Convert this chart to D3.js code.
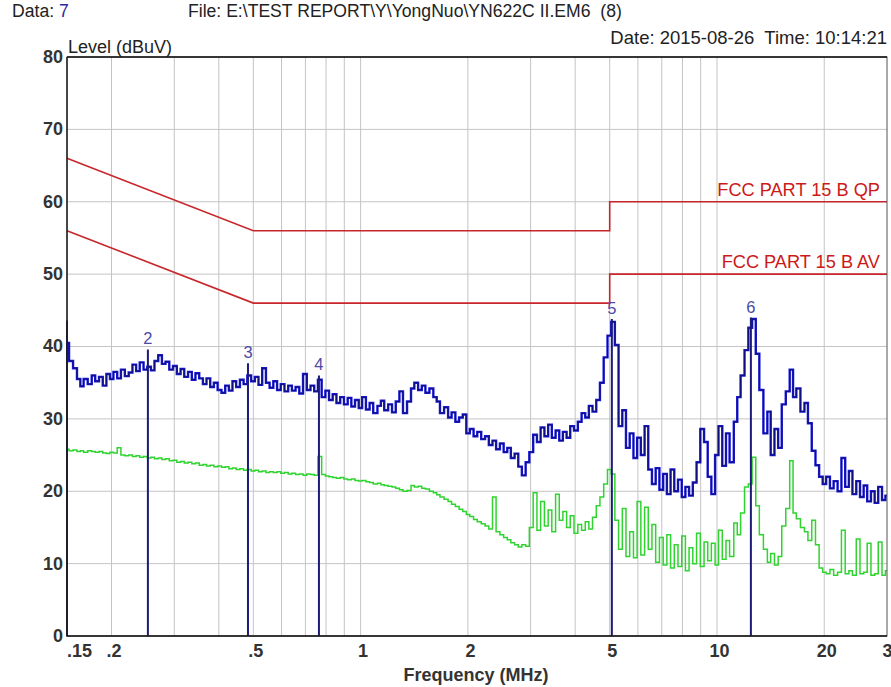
<!DOCTYPE html>
<html><head><meta charset="utf-8">
<script src="https://cdn.jsdelivr.net/npm/d3@7"></script>
<style>
html,body{margin:0;padding:0;background:#fff;}
svg{display:block;font-family:"Liberation Sans",Arial,sans-serif;}
</style></head>
<body>
<svg id="chart" width="891" height="687"></svg>
<script>
// ---------- data ----------
const scanFreq = [
0.150,0.154,0.158,0.162,0.165,0.169,0.174,0.178,0.182,0.187,0.191,0.196,
0.200,0.205,0.210,0.215,0.221,0.226,0.232,0.237,0.243,0.249,0.255,0.261,0.267,0.274,0.280,0.287,0.294,
0.301,0.309,0.316,0.324,0.332,0.340,0.348,0.357,0.365,0.374,0.383,0.392,
0.402,0.412,0.422,0.432,0.442,0.453,0.464,0.475,0.487,0.499,
0.511,0.523,0.536,0.549,0.562,0.576,0.590,
0.604,0.619,0.634,0.649,0.665,0.681,0.698,
0.715,0.732,0.750,0.768,0.787,
0.806,0.825,0.845,0.866,0.887,0.909,0.931,0.953,0.976,
1.00,1.02,1.05,1.07,1.10,1.13,1.15,1.18,1.21,1.24,1.27,1.30,1.33,1.37,1.40,1.43,1.47,
1.50,1.54,1.58,1.62,1.65,1.69,1.74,1.78,1.82,1.87,1.91,1.96,
2.00,2.05,2.10,2.15,2.21,2.26,2.32,2.37,2.43,2.49,2.55,2.61,2.67,2.74,2.80,2.87,2.94,
3.01,3.09,3.16,3.24,3.32,3.40,3.48,3.57,3.65,3.74,3.83,3.92,
4.02,4.12,4.22,4.32,4.42,4.53,4.64,4.75,4.87,4.99,
5.11,5.23,5.36,5.49,5.62,5.76,5.90,
6.04,6.19,6.34,6.49,6.65,6.81,6.98,
7.15,7.32,7.50,7.68,7.87,
8.06,8.25,8.45,8.66,8.87,9.09,9.31,9.53,9.76,
10.0,10.2,10.5,10.7,11.0,11.3,11.5,11.8,12.1,12.4,12.7,13.0,13.3,13.7,14.0,14.3,14.7,
15.0,15.4,15.8,16.2,16.5,16.9,17.4,17.8,18.2,18.7,19.1,19.6,
20.0,20.5,21.0,21.5,22.1,22.6,23.2,23.7,24.3,24.9,25.5,26.1,26.7,27.4,28.0,28.7,29.4,30.0
];
const peakLevel = [
40.5,38.0,37.0,35.5,34.5,35.5,34.8,36.0,35.2,35.8,
34.6,36.2,35.5,36.5,35.6,36.8,35.9,36.4,37.5,36.6,
37.8,36.8,37.2,36.7,38.0,38.8,37.6,37.9,36.8,37.3,
36.2,36.9,35.8,36.5,35.4,36.3,35.6,34.8,35.6,34.4,
35.0,34.0,33.6,34.6,33.9,35.2,34.4,35.4,34.8,36.0,
35.2,35.8,34.7,37.0,35.0,34.3,35.2,34.0,34.8,33.8,
34.6,33.9,34.4,33.5,36.2,34.0,34.6,33.8,35.4,33.0,
33.9,32.6,33.4,32.2,33.0,32.0,32.9,31.7,32.6,31.5,
33.0,31.3,32.2,30.8,31.8,32.5,31.2,32.0,30.9,32.4,
33.8,30.8,32.4,34.2,35.0,34.0,34.6,33.6,34.2,33.0,
32.4,30.8,31.6,30.2,30.9,29.6,30.2,30.6,28.0,28.6,
27.6,28.2,27.2,27.6,26.4,27.0,25.8,26.6,25.4,26.0,
24.6,25.2,23.4,22.2,24.0,25.4,27.8,26.8,28.8,27.6,
29.2,27.4,28.4,27.0,28.2,27.4,29.0,28.4,29.6,30.8,
30.2,31.8,31.0,32.6,35.0,38.5,41.5,43.4,40.2,29.0,
31.2,26.0,28.0,24.6,27.4,25.0,29.0,23.0,21.0,23.2,
20.2,22.4,19.6,23.0,20.0,21.6,19.2,20.6,19.4,21.2,
24.0,28.6,26.8,22.0,19.6,25.0,29.0,23.5,28.0,24.0,
29.6,33.0,36.0,39.5,42.6,43.8,39.0,34.0,28.0,31.0,
25.0,28.6,26.0,32.0,33.8,36.8,33.0,34.2,31.0,32.2,
29.4,25.6,23.6,22.0,21.0,22.0,20.4,21.4,20.0,24.6,
20.6,22.8,19.6,21.4,19.2,20.8,18.6,20.0,18.4,20.6,
18.8,19.4
];
const avgLevel = [
25.8,25.6,25.7,25.5,25.6,25.4,25.6,25.5,25.4,25.5,
25.3,25.2,25.4,25.3,26.0,25.0,24.9,25.0,24.8,24.9,
24.7,24.8,24.6,24.7,24.5,24.6,24.4,24.5,24.2,24.3,
24.0,24.1,23.9,24.0,23.8,23.9,23.6,23.7,23.5,23.6,
23.4,23.5,23.3,23.4,23.1,23.2,23.0,23.1,22.9,23.0,
22.8,22.9,22.7,22.8,22.6,22.7,22.6,22.7,22.5,22.6,
22.4,22.5,22.3,22.4,22.2,22.4,22.3,22.2,24.8,22.3,
22.1,22.0,21.9,21.8,21.9,21.7,21.6,21.7,21.5,21.4,
21.5,21.3,21.2,21.0,21.1,20.9,20.8,20.7,20.6,20.4,
20.2,20.0,20.1,20.8,20.6,20.7,20.4,20.3,20.0,19.8,
19.5,19.2,18.9,18.6,18.2,17.9,17.5,17.2,16.8,16.5,
16.1,15.8,15.5,15.2,14.8,19.2,14.4,14.0,13.6,13.3,
12.9,12.6,12.3,12.6,12.4,15.0,19.8,14.6,18.6,15.2,
17.4,14.4,19.6,16.0,17.2,15.0,16.6,14.2,15.4,14.6,
15.8,14.8,16.4,18.0,19.2,21.0,23.0,22.4,16.0,12.0,
17.6,11.0,14.4,10.8,18.6,11.2,17.8,12.0,15.4,10.2,
13.6,9.8,14.0,9.4,12.6,9.6,13.8,9.0,12.2,10.0,
14.2,9.6,13.0,10.4,12.8,9.8,14.6,10.6,13.2,11.0,
15.6,14.0,17.0,20.6,21.0,24.7,18.0,14.0,12.0,10.2,
11.4,9.8,11.0,15.2,17.6,24.2,17.0,16.2,15.0,14.4,
13.2,16.0,12.6,9.4,8.8,8.6,9.2,8.4,8.8,14.6,
8.6,9.0,8.4,13.4,8.6,8.8,12.8,8.4,8.6,13.0,
8.4,9.0
];
const qpLimit = [[0.15,66],[0.5,56],[5,56],[5,60],[30,60]];
const avLimit = [[0.15,56],[0.5,46],[5,46],[5,50],[30,50]];
const limitNames = ["FCC PART 15 B QP","FCC PART 15 B AV"];
const markerIds = [1,2,3,4,5,6];
const markerFreq = [0.150,0.253,0.483,0.764,5.07,12.45];
const markerLevel = [43.6,39.6,37.7,36.0,43.8,44.0];
const xTickValues = [0.15,0.2,0.5,1,2,5,10,20,30];
const xTickLabels = [".15",".2",".5","1","2","5","10","20","30"];
const gridFreqs = [0.2,0.3,0.4,0.5,0.6,0.7,0.8,0.9,1,2,3,4,5,6,7,8,9,10,20];
const yTickValues = [0,10,20,30,40,50,60,70,80];

// ---------- chart ----------
const svg = d3.select("#chart");
const x = d3.scaleLog().domain([0.15,30]).range([67,887]);
const y = d3.scaleLinear().domain([0,80]).range([636,57]);

// header
const hdr = svg.append("g").attr("font-size",17.6).attr("fill","#222");
const t1 = hdr.append("text").attr("x",12).attr("y",17);
t1.append("tspan").text("Data: ");
t1.append("tspan").attr("fill","#2b2b9c").text("7");
hdr.append("text").attr("x",188).attr("y",17).attr("xml:space","preserve")
   .text("File: E:\\TEST REPORT\\Y\\YongNuo\\YN622C II.EM6  (8)");
hdr.append("text").attr("x",887).attr("y",44).attr("text-anchor","end").attr("font-size",18.5)
   .attr("xml:space","preserve").text("Date: 2015-08-26  Time: 10:14:21");
svg.append("text").attr("x",68).attr("y",53).attr("font-size",18).attr("fill","#222").text("Level (dBuV)");

// grid
const grid = svg.append("g").attr("stroke","#c4c4c4").attr("stroke-width",1);
grid.selectAll("line.v").data(gridFreqs).join("line").attr("class","v")
  .attr("x1",d=>x(d)).attr("x2",d=>x(d)).attr("y1",y(80)).attr("y2",y(0));
grid.selectAll("line.h").data(yTickValues.filter(v=>v>0&&v<80)).join("line").attr("class","h")
  .attr("x1",x(0.15)).attr("x2",x(30)).attr("y1",d=>y(d)).attr("y2",d=>y(d));

// limits
const lineL = d3.line().x(d=>x(d[0])).y(d=>y(d[1]));
[qpLimit,avLimit].forEach((lim,i)=>{
  svg.append("path").attr("d",lineL(lim)).attr("fill","none").attr("stroke","#c8262a").attr("stroke-width",1.6);
  svg.append("text").attr("x",880).attr("y",y(lim[lim.length-1][1])-6).attr("text-anchor","end")
    .attr("font-size",18.2).attr("fill","#cc1a1a").text(limitNames[i]);
});

// traces
const scanLine = arr => d3.line().curve(d3.curveStep).x((d,i)=>x(scanFreq[i])).y(d=>y(d))(arr);
svg.append("path").attr("d",scanLine(avgLevel)).attr("fill","none").attr("stroke","#2fd42f").attr("stroke-width",1.5);
svg.append("path").attr("d",scanLine(peakLevel)).attr("fill","none").attr("stroke","#1b1bd6").attr("stroke-width",2.4);
svg.append("path").attr("d",scanLine(peakLevel)).attr("fill","none").attr("stroke","#0d0d70").attr("stroke-width",0.9);

// markers
const mk = svg.append("g");
markerIds.forEach((id,i)=>{
  mk.append("line").attr("x1",x(markerFreq[i])).attr("x2",x(markerFreq[i]))
    .attr("y1",y(0)).attr("y2",y(markerLevel[i])).attr("stroke","#1c1c78").attr("stroke-width",2);
  if(i>0) mk.append("text").attr("x",x(markerFreq[i])).attr("y",y(markerLevel[i])-5)
    .attr("text-anchor","middle").attr("font-size",16.5).attr("fill","#4a4aa8").text(id);
});

// frame
svg.append("rect").attr("x",67).attr("y",57).attr("width",820).attr("height",579)
  .attr("fill","none").attr("stroke","#555").attr("stroke-width",1);
svg.append("path").attr("d",`M67,57V636H887M67,57H887`).attr("fill","none").attr("stroke","#111").attr("stroke-width",1.3);

// axes labels
const yAx = svg.append("g").attr("transform","translate(67,0)")
  .call(d3.axisLeft(y).tickValues(yTickValues).tickSize(0).tickPadding(4).tickFormat(d3.format("d")));
yAx.select(".domain").remove();
yAx.selectAll("text").attr("font-size",18).attr("font-weight","bold").attr("fill","#333")
  .attr("font-family","Liberation Sans, Arial, sans-serif").attr("dy","0.3em");

const xAx = svg.append("g").attr("transform","translate(0,636)")
  .call(d3.axisBottom(x).tickValues(xTickValues).tickSize(0).tickPadding(8)
    .tickFormat((d,i)=>xTickLabels[i]));
xAx.select(".domain").remove();
xAx.selectAll("text").attr("font-size",18).attr("font-weight","bold").attr("fill","#333")
  .attr("font-family","Liberation Sans, Arial, sans-serif")
  .attr("dx",(d,i)=> i===0 ? "12" : (i===xTickValues.length-1 ? "5" : "2"));

svg.append("text").attr("x",476).attr("y",681).attr("text-anchor","middle").attr("font-size",18)
  .attr("font-weight","bold").attr("fill","#333").text("Frequency (MHz)");
</script>
</body></html>
